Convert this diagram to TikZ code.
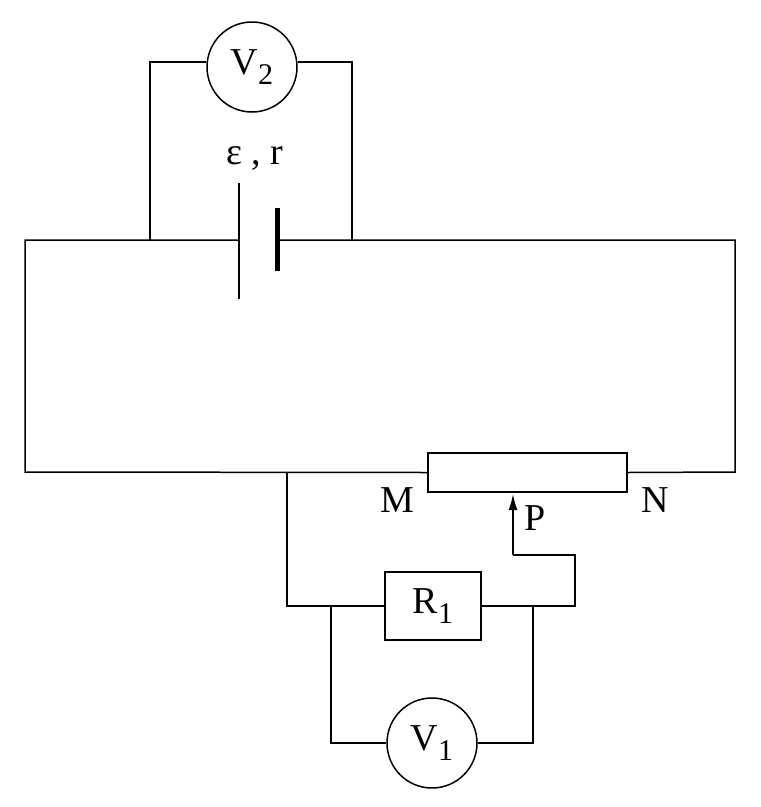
\documentclass[tikz,border=0pt]{standalone}
\usepackage{fontspec}
\setmainfont{Liberation Serif}
\usetikzlibrary{arrows.meta}
\newcommand{\sbs}[1]{\raisebox{-0.25em}{\fontsize{30}{34}\selectfont #1}}
\begin{document}
\begin{tikzpicture}[x=1pt,y=-1pt,line width=1.5pt,
  lab/.style={font=\fontsize{38}{44}\selectfont,inner sep=0pt},
  meter/.style={circle,draw,minimum size=90pt,inner sep=0pt,font=\fontsize{38}{44}\selectfont},
  box/.style={rectangle,draw,inner sep=0pt}]
\useasboundingbox (0,0) rectangle (761,807);
% battery
\coordinate (bl) at (239,240); \coordinate (br) at (277,240);
\draw (239,183) -- (239,299);
\draw[line width=5pt] (277,208) -- (277,271);
% nodes
\node[meter] (V2) at (252,67) {V\sbs{2}};
\node[meter] (V1) at (432,743) {V\sbs{1}};
\node[box,minimum width=199pt,minimum height=39pt] (Rh) at (527.5,472.5) {};
\node[box,minimum width=96pt,minimum height=68pt,font=\fontsize{38}{44}\selectfont] (R1) at (433,606) {R\sbs{1}};
\node[lab] (e) at (255,158) {ε , r};
\node[lab] (M) at (397,500) {M};
\node[lab] (N) at (655,500) {N};
\node[lab] (P) at (535,518) {P};
% coordinates
\coordinate (a) at (150,240); \coordinate (b) at (352,240);
\coordinate (c) at (287,472); \coordinate (d) at (331,606); \coordinate (f) at (533,606);
\coordinate (s) at (513,555); \coordinate (st) at (513,494);
% main loop
\draw (bl) -- (25,240) -- (25,472) -- (Rh.west);
\draw (br) -- (735,240) -- (735,472) -- (Rh.east);
% V2
\draw (a) -- (150,62) -- (V2.west |- 0,62);
\draw (V2.east |- 0,62) -- (352,62) -- (b);
% R1 branch
\draw (c) -- (287,606) -- (R1.west);
\draw (R1.east) -- (575,606) -- (575,555) -- (s);
\draw[-{Latex[length=16pt,width=9pt]}] (s) -- (st);
% V1
\draw (d) -- (331,743) -- (V1.west);
\draw (V1.east) -- (533,743) -- (f);
\end{tikzpicture}
\end{document}
